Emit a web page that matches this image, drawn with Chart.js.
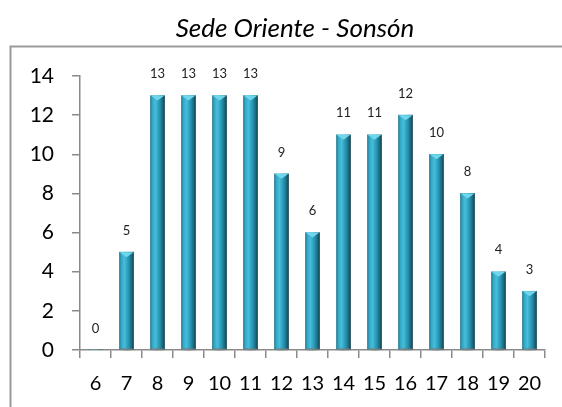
<!DOCTYPE html>
<html lang="es">
<head>
<meta charset="UTF-8">
<title>Sede Oriente - Sonsón</title>
<script src="https://cdn.jsdelivr.net/npm/chart.js"></script>
<style>
  html, body { margin: 0; padding: 0; background: #fff; }
  #wrap { width: 562px; height: 407px; }
</style>
</head>
<body>
<div id="wrap"><canvas id="grafico"></canvas></div>
<script>
// datos
const titulo = "Sede Oriente - Sonsón";
const categorias = ["6", "7", "8", "9", "10", "11", "12", "13", "14", "15", "16", "17", "18", "19", "20"];
const valores = [0, 5, 13, 13, 13, 13, 9, 6, 11, 11, 12, 10, 8, 4, 3];
const yTicks = [0, 2, 4, 6, 8, 10, 12, 14];

const gris = "#8a8a8a";

// degradado horizontal de cada barra (efecto cilindro)
function colorBarra(context) {
    const chart = context.chart;
    const xs = chart.scales.x;
    if (!xs || !chart.chartArea) return "#2b9bb8";
    const cx = xs.getPixelForValue(context.dataIndex);
    const g = chart.ctx.createLinearGradient(cx - 7, 0, cx + 7, 0);
    g.addColorStop(0, "#1f7790");
    g.addColorStop(0.12, "#32a7c5");
    g.addColorStop(0.35, "#46bedb");
    g.addColorStop(0.65, "#2795b1");
    g.addColorStop(0.9, "#186277");
    g.addColorStop(1, "#0f3f4c");
    return g;
}

// título, marco y detalles de las barras
const extras = {
    id: "extras",
    beforeDraw(chart) {
        const c = chart.ctx;
        c.save();
        c.strokeStyle = "#999";
        c.lineWidth = 2;
        c.beginPath();
        c.moveTo(10.5, 407);
        c.lineTo(10.5, 46.5);
        c.lineTo(562, 46.5);
        c.stroke();
        c.fillStyle = "#000";
        c.font = "italic 26px Lato";
        c.textAlign = "center";
        c.textBaseline = "middle";
        c.fillText(titulo, 295, 29);
        c.restore();
    },
    afterDatasetsDraw(chart) {
        const c = chart.ctx;
        const meta = chart.getDatasetMeta(0);
        c.save();
        meta.data.forEach((bar, i) => {
            const v = valores[i];
            if (v > 0) {
                // base gris
                c.fillStyle = "rgba(120,120,120,0.55)";
                c.beginPath();
                c.ellipse(bar.x, bar.base, 8, 1.5, 0, 0, Math.PI * 2);
                c.fill();
                // tapa superior
                c.fillStyle = "#6fd6ec";
                c.beginPath();
                c.moveTo(bar.x - 7, bar.y);
                c.lineTo(bar.x + 7, bar.y);
                c.lineTo(bar.x, bar.y + 5);
                c.closePath();
                c.fill();
            }
            c.fillStyle = "#222";
            c.font = "13px Lato";
            c.textAlign = "center";
            c.textBaseline = "middle";
            c.fillText(String(v), bar.x, bar.y - 21.5);
        });
        c.restore();
    }
};

new Chart(document.getElementById("grafico"), {
    type: "bar",
    data: {
        labels: categorias,
        datasets: [{
            data: valores,
            backgroundColor: colorBarra,
            borderWidth: 0,
            barThickness: 14
        }]
    },
    options: {
        responsive: true,
        maintainAspectRatio: false,
        animation: false,
        layout: { padding: { top: 76, right: 17, left: 0, bottom: 0 } },
        plugins: {
            legend: { display: false },
            title: { display: false },
            tooltip: { enabled: false }
        },
        scales: {
            x: {
                afterFit: s => { s.height = 57; },
                border: { display: true, color: gris, width: 1.5 },
                grid: { drawOnChartArea: false, drawTicks: true, tickLength: 8, tickColor: gris, lineWidth: 1.5, offset: true },
                ticks: { color: "#000", font: { family: "Lato", size: 20 }, padding: 14, maxRotation: 0, autoSkip: false }
            },
            y: {
                min: 0,
                max: 14,
                afterFit: s => { s.width = 80; },
                afterBuildTicks: s => { s.ticks = yTicks.map(v => ({ value: v })); },
                border: { display: true, color: gris, width: 1.5 },
                grid: { drawOnChartArea: false, drawTicks: true, tickLength: 8, tickColor: gris, lineWidth: 1.5 },
                ticks: { color: "#000", font: { family: "Lato", size: 21 }, padding: 18 }
            }
        }
    },
    plugins: [extras]
});
</script>
</body>
</html>
